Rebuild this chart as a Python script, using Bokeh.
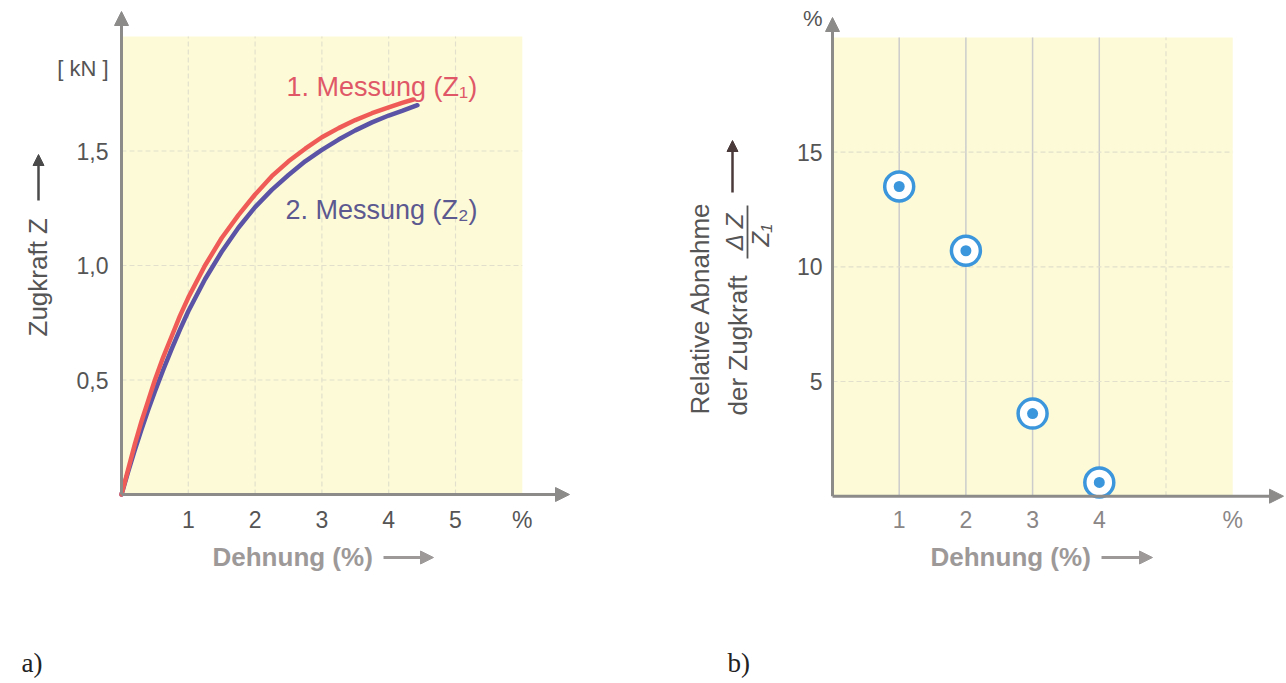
from bokeh.plotting import figure
from bokeh.models import Range1d, FixedTicker, Label, Arrow, NormalHead
from bokeh.layouts import row
from bokeh.embed import file_html
from bokeh.resources import INLINE

# ---------------- data: chart a) ----------------
dehnung_z1 = [0, 0.1, 0.2, 0.3, 0.4, 0.5, 0.625, 0.75, 0.875, 1.0, 1.25, 1.5, 1.75,
              2.0, 2.25, 2.5, 2.75, 3.0, 3.25, 3.5, 3.75, 4.0, 4.2, 4.37]
zugkraft_z1 = [0, 0.11, 0.22, 0.32, 0.41, 0.50, 0.60, 0.69, 0.78, 0.86, 1.00, 1.12, 1.22,
               1.31, 1.39, 1.455, 1.51, 1.56, 1.60, 1.635, 1.665, 1.69, 1.71, 1.725]
dehnung_z2 = [0, 0.1, 0.2, 0.3, 0.4, 0.5, 0.625, 0.75, 0.875, 1.0, 1.25, 1.5, 1.75,
              2.0, 2.25, 2.5, 2.75, 3.0, 3.25, 3.5, 3.75, 4.0, 4.2, 4.43]
zugkraft_z2 = [0, 0.10, 0.195, 0.285, 0.37, 0.45, 0.545, 0.635, 0.72, 0.80, 0.94, 1.06, 1.165,
               1.255, 1.33, 1.395, 1.455, 1.505, 1.55, 1.59, 1.625, 1.655, 1.675, 1.70]
x_ticks_a = [1, 2, 3, 4, 5, 6]
x_tick_labels_a = ["1", "2", "3", "4", "5", "%"]
y_ticks_a = [0.5, 1.0, 1.5]
y_tick_labels_a = ["0,5", "1,0", "1,5"]
x_lim_a = 6
y_lim_a = 2.0

# ---------------- data: chart b) ----------------
dehnung_b = [1, 2, 3, 4]
abnahme_b = [13.5, 10.7, 3.6, 0.6]
x_ticks_b = [1, 2, 3, 4, 6]
x_tick_labels_b = ["1", "2", "3", "4", "%"]
y_ticks_b = [5, 10, 15]
y_tick_labels_b = ["5", "10", "15"]
grid_x_b = [1, 2, 3, 4]
grid_x_b_faint = [5]
x_lim_b = 6
y_lim_b = 20

# ---------------- styles ----------------
SANS = "Liberation Sans"
SERIF = "Liberation Serif"
BG = "#fdfbd7"
AXIS = "#8d8a8a"
RED = "#ef5c58"
BLUE = "#5b53a5"
RED_TXT = "#e05868"
BLUE_TXT = "#5c5890"
TICK = "#555555"
TITLE_GREY = "#9d9999"
DOT = "#3c96dc"
H = 683

# pixel geometry (page pixels)
W_A = 640
W_B = 646
A_X0, A_SX, A_Y0, A_SY = 121.0, 66.8, 494.0, 229.0
B_OFF = 640
B_X0, B_SX, B_Y0, B_SY = 832.0, 66.7, 495.7, 22.94


def ax(px):
    return (px - A_X0) / A_SX


def ay(py):
    return (A_Y0 - py) / A_SY


def bx(px):
    return (px - B_X0) / B_SX


def by(py):
    return (B_Y0 - py) / B_SY


def base_fig(width, xr, yr):
    p = figure(width=width, height=H, x_range=xr, y_range=yr,
               min_border=0, min_border_left=0, min_border_right=0,
               min_border_top=0, min_border_bottom=0,
               output_backend="svg", toolbar_location=None)
    p.xgrid.visible = False
    p.ygrid.visible = False
    p.outline_line_color = None
    p.background_fill_color = "white"
    p.border_fill_color = "white"
    for axis in (p.xaxis[0], p.yaxis[0]):
        axis.fixed_location = 0
        axis.axis_line_color = None
        axis.major_tick_line_color = None
        axis.minor_tick_line_color = None
        axis.major_tick_out = 0
        axis.major_tick_in = 0
        axis.major_label_text_font = SANS
        axis.major_label_text_font_size = "23px"
        axis.major_label_text_color = TICK
    return p


def add_label(p, x, y, text, size, color, font=SANS, style="normal", angle=0,
              align="left", baseline="middle"):
    p.add_layout(Label(x=x, y=y, text=text, text_font=font, text_font_size=size,
                       text_color=color, text_font_style=style, angle=angle,
                       angle_units="deg", text_align=align, text_baseline=baseline))


def add_arrow(p, x1, y1, x2, y2, color, width, head):
    p.add_layout(Arrow(end=NormalHead(size=head, fill_color=color, line_color=color),
                       x_start=x1, y_start=y1, x_end=x2, y_end=y2,
                       line_color=color, line_width=width))


# ================= chart a) =================
pa = base_fig(W_A, Range1d(ax(0), ax(W_A)), Range1d(ay(H), ay(0)))
pa.quad(left=0, right=x_lim_a, bottom=0, top=y_lim_a, fill_color=BG, line_color=None)
pa.segment(x0=x_ticks_a[:-1], y0=[0] * (len(x_ticks_a) - 1), x1=x_ticks_a[:-1],
           y1=[y_lim_a] * (len(x_ticks_a) - 1), line_color="#e2e0cc", line_width=1.2,
           line_dash="5 3")
pa.segment(x0=[0] * len(y_ticks_a), y0=y_ticks_a, x1=[x_lim_a] * len(y_ticks_a),
           y1=y_ticks_a, line_color="#e2e0cc", line_width=1.2, line_dash="5 3")
pa.line(dehnung_z2, zugkraft_z2, line_color=BLUE, line_width=4.5, line_cap="round",
        line_join="round")
pa.line(dehnung_z1, zugkraft_z1, line_color=RED, line_width=4.5, line_cap="round",
        line_join="round")

pa.xaxis.ticker = FixedTicker(ticks=x_ticks_a)
pa.xaxis.major_label_overrides = dict(zip(x_ticks_a, x_tick_labels_a))
pa.xaxis.major_label_standoff = 12
pa.yaxis.ticker = FixedTicker(ticks=y_ticks_a)
pa.yaxis.major_label_overrides = dict(zip(y_ticks_a, y_tick_labels_a))
pa.yaxis.major_label_standoff = 13

add_arrow(pa, 0, 0, ax(569), 0, AXIS, 3, 14)
add_arrow(pa, 0, 0, 0, ay(11), AXIS, 3, 14)

add_label(pa, ax(108), ay(68), "[ kN ]", "22px", TICK, align="right")
add_label(pa, ax(286), ay(86), "1. Messung (Z\u2081)", "27px", RED_TXT)
add_label(pa, ax(285), ay(209), "2. Messung (Z\u2082)", "27px", BLUE_TXT)
add_label(pa, ax(37), ay(336), "Zugkraft Z", "26px", TICK, angle=90)
add_arrow(pa, ax(38), ay(200), ax(38), ay(154), "#4a4a4a", 2.5, 11)
add_label(pa, ax(212), ay(556), "Dehnung (%)", "26px", TITLE_GREY, style="bold")
add_arrow(pa, ax(383), ay(557), ax(433), ay(557), TITLE_GREY, 3, 13)
add_label(pa, ax(21), ay(662), "a)", "27px", "#222222", font=SERIF)

# ================= chart b) =================
pb = base_fig(W_B, Range1d(bx(B_OFF), bx(B_OFF + W_B)), Range1d(by(H), by(0)))
pb.quad(left=0, right=x_lim_b, bottom=0, top=y_lim_b, fill_color=BG, line_color=None)
pb.segment(x0=grid_x_b, y0=[0] * len(grid_x_b), x1=grid_x_b, y1=[y_lim_b] * len(grid_x_b),
           line_color="#cccccc", line_width=1.5)
pb.segment(x0=grid_x_b_faint, y0=[0], x1=grid_x_b_faint, y1=[y_lim_b],
           line_color="#e2e0cc", line_width=1.2, line_dash="5 3")
pb.segment(x0=[0] * len(y_ticks_b), y0=y_ticks_b, x1=[x_lim_b] * len(y_ticks_b),
           y1=y_ticks_b, line_color="#e2e0cc", line_width=1.2, line_dash="5 3")
pb.scatter(dehnung_b, abnahme_b, size=29, fill_color="white", line_color=DOT, line_width=3.5)
pb.scatter(dehnung_b, abnahme_b, size=11, fill_color=DOT, line_color=None)

pb.xaxis.ticker = FixedTicker(ticks=x_ticks_b)
pb.xaxis.major_label_overrides = dict(zip(x_ticks_b, x_tick_labels_b))
pb.xaxis.major_label_standoff = 11
pb.xaxis.major_label_text_color = "#8a8686"
pb.yaxis.ticker = FixedTicker(ticks=y_ticks_b)
pb.yaxis.major_label_overrides = dict(zip(y_ticks_b, y_tick_labels_b))
pb.yaxis.major_label_standoff = 10

add_arrow(pb, 0, 0, bx(1283), 0, AXIS, 3, 14)
add_arrow(pb, 0, 0, 0, by(17), AXIS, 3, 14)

add_label(pb, bx(822), by(18), "%", "22px", TICK, align="right")
add_label(pb, bx(699), by(414), "Relative Abnahme", "26px", TICK, angle=90)
add_label(pb, bx(737), by(415), "der Zugkraft", "26px", TICK, angle=90)
add_label(pb, bx(734), by(231), "\u0394 Z", "24px", TICK, style="italic", angle=90,
          align="center")
pb.add_layout(Arrow(end=None, x_start=bx(747), y_start=by(258), x_end=bx(747),
                    y_end=by(205), line_color=TICK, line_width=1.8))
add_label(pb, bx(760), by(235), "Z\u2081", "24px", TICK, style="italic", angle=90,
          align="center")
add_arrow(pb, bx(732), by(192), bx(732), by(140), "#4a3a3a", 2.5, 11)
add_label(pb, bx(930), by(556), "Dehnung (%)", "26px", TITLE_GREY, style="bold")
add_arrow(pb, bx(1101), by(557), bx(1152), by(557), TITLE_GREY, 3, 13)
add_label(pb, bx(727), by(662), "b)", "27px", "#222222", font=SERIF)

layout = row(pa, pb)
open("out.html", "w").write(file_html(layout, INLINE))
